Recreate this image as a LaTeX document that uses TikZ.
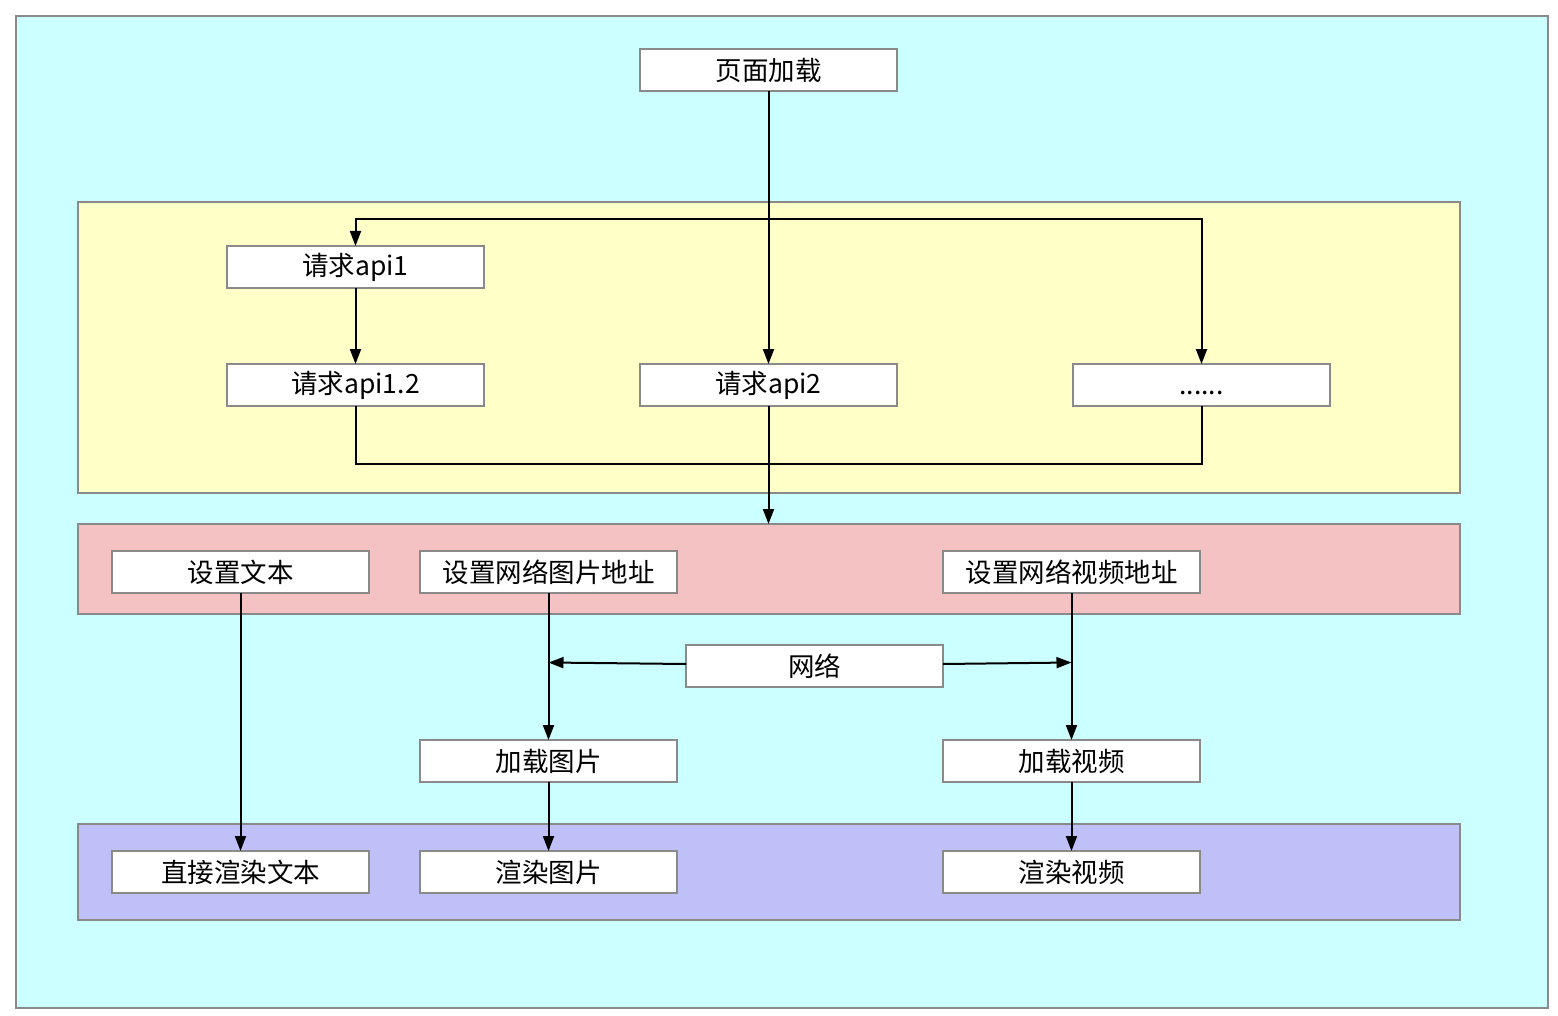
\documentclass[tikz,border=0pt]{standalone}
\usepackage{fontspec}
\setmainfont{Noto Sans CJK SC}
\usetikzlibrary{arrows.meta}
\definecolor{bgcyan}{HTML}{CCFFFF}
\definecolor{yel}{HTML}{FFFFC8}
\definecolor{pnk}{HTML}{F4C2C2}
\definecolor{pur}{HTML}{C0C0F8}
\definecolor{bord}{HTML}{8A8A8A}
\begin{document}
\begin{tikzpicture}[x=1pt,y=-1pt,
  panel/.style={draw=bord,line width=1.5pt},
  box/.style={draw=bord,fill=white,line width=1.5pt,minimum width=257pt,minimum height=42pt,inner sep=0pt,outer sep=0pt,font=\fontsize{26.5}{30}\selectfont,anchor=north west},
  conn/.style={line width=2pt,draw=black},
  arr/.style={conn,-{Triangle[length=15pt,width=11pt]}}]
\useasboundingbox (0,0) rectangle (1558,1016);
\fill[white] (0,0) rectangle (1558,1016);
\draw[panel,fill=bgcyan] (16,16) rectangle (1548,1008);
\draw[panel,fill=yel] (78,202) rectangle (1460,493);
\draw[panel,fill=pnk] (78,524) rectangle (1460,614);
\draw[panel,fill=pur] (78,824) rectangle (1460,920);
\coordinate (pinktop) at (768.5,524);

\node[box] (load) at (640,49) {页面加载};
\node[box] (api1) at (227,246) {请求api1};
\node[box] (api12) at (227,364) {请求api1.2};
\node[box] (api2) at (640,364) {请求api2};
\node[box] (dots) at (1073,364) {\raisebox{-9pt}[0pt][0pt]{......}};
\node[box] (txt) at (112,551) {设置文本};
\node[box] (img) at (420,551) {设置网络图片地址};
\node[box] (vid) at (943,551) {设置网络视频地址};
\node[box] (net) at (686,645) {网络};
\node[box] (limg) at (420,740) {加载图片};
\node[box] (lvid) at (943,740) {加载视频};
\node[box] (rtxt) at (112,851) {直接渲染文本};
\node[box] (rimg) at (420,851) {渲染图片};
\node[box] (rvid) at (943,851) {渲染视频};

\coordinate (split) at (768.5,219);
\coordinate (imgline) at (548.5,662.5);
\coordinate (vidline) at (1071.5,662.5);
\draw[arr] (load) -- (api2);
\draw[arr] (split) -| (api1);
\draw[arr] (split) -| (dots);
\draw[arr] (api1) -- (api12);
\draw[conn] (api12.south) |- (768.5,464) -| (dots.south);
\draw[arr] (api2) -- (pinktop);
\draw[arr] (txt) -- (rtxt);
\draw[arr] (img) -- (limg);
\draw[arr] (vid) -- (lvid);
\draw[arr] ([yshift=2pt]net.west) -- (imgline);
\draw[arr] ([yshift=2pt]net.east) -- (vidline);
\draw[arr] (limg) -- (rimg);
\draw[arr] (lvid) -- (rvid);
\end{tikzpicture}
\end{document}
